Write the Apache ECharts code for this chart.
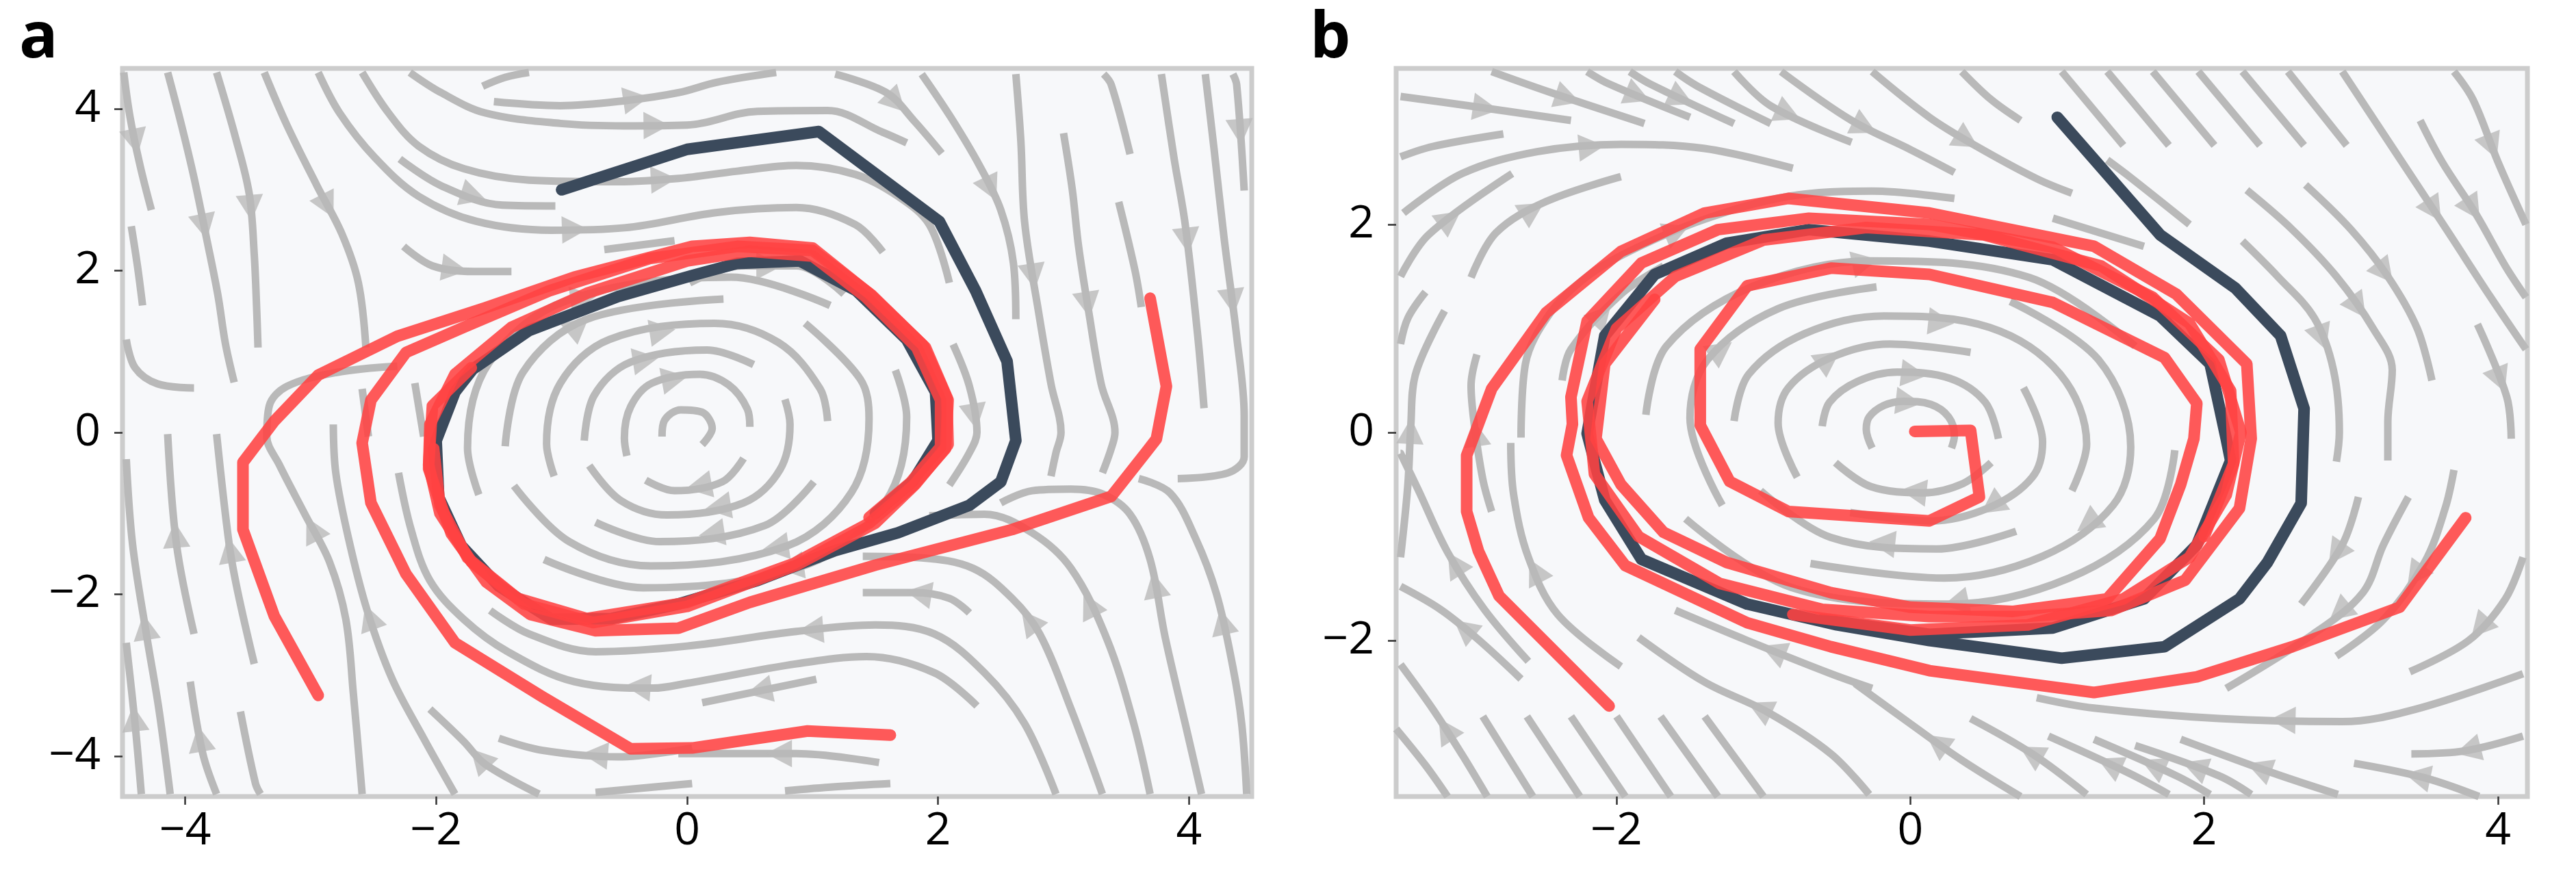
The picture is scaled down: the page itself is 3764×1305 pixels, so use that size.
<!DOCTYPE html>
<html><head><meta charset="utf-8">
<script src="https://cdn.jsdelivr.net/npm/echarts@6/dist/echarts.min.js"></script>
<style>html,body{margin:0;padding:0;background:#fff}#c{width:3764px;height:1305px}</style>
</head><body><div id="c"></div>
<script>
// ---------- tick labels ----------
const aXTicks = [-4, -2, 0, 2, 4];
const aYTicks = [-4, -2, 0, 2, 4];
const bXTicks = [-2, 0, 2, 4];
const bYTicks = [-2, 0, 2];

// ---------- panel a : streamlines (flow order) ----------
const aStreamTopLeft = [
 [[-4.49,4.45],[-4.44,3.9],[-4.36,3.3],[-4.27,2.75]],
 [[-4.43,2.55],[-4.38,2.05],[-4.34,1.57]],
 [[-4.47,1.15],[-4.4,0.8],[-4.22,0.6],[-3.93,0.55]],
 [[-4.14,4.45],[-4.03,3.8],[-3.93,3.15],[-3.83,2.4],[-3.74,1.7],[-3.68,1.1],[-3.61,0.62]],
 [[-3.75,4.45],[-3.6,3.65],[-3.49,2.95],[-3.45,2.2],[-3.43,1.5],[-3.42,1.05]],
 [[-3.37,4.45],[-3.19,3.8],[-2.95,3.05],[-2.75,2.45],[-2.62,1.85],[-2.56,1.05]],
 [[-2.94,4.45],[-2.77,3.95],[-2.49,3.4],[-2.14,2.92],[-1.68,2.61],[-1.08,2.5],[-0.5,2.53],[0.24,2.72],[0.87,2.78],[1.34,2.57],[1.56,2.23]],
 [[-2.59,4.45],[-2.38,3.95],[-2.14,3.54],[-1.78,3.26],[-1.26,3.12],[-0.55,3.1],[-0.07,3.14],[0.4,3.23],[0.87,3.3],[1.34,3.19],[1.68,2.92],[1.93,2.57],[2.09,1.85]],
 [[-2.21,4.45],[-1.96,4.2],[-1.61,3.95],[-1.01,3.82],[-0.5,3.79],[0.0,3.8],[0.56,3.97],[1.12,3.98],[1.56,3.71],[1.75,3.58]],
 [[-1.54,4.09],[-1.01,4.04],[-0.5,4.1],[-0.07,4.2],[0.24,4.33],[0.71,4.45]],
 [[-1.63,4.28],[-1.45,4.39],[-1.26,4.45]],
 [[-2.29,3.38],[-1.96,3.05],[-1.47,2.81],[-1.05,2.8]],
 [[-2.26,2.3],[-2.03,2.06],[-1.7,1.99],[-1.4,1.99]],
 [[-0.66,2.26],[-0.1,2.37]],
 [[-2.54,-0.05],[-2.59,0.54]],
 [[-2.1,-0.05],[-2.17,0.61]]
];
const aStreamRight = [
 [[1.18,4.43],[1.59,4.2],[1.81,3.85],[2.03,3.45]],
 [[1.87,4.43],[2.1,3.9],[2.33,3.3],[2.5,2.75],[2.6,2.1],[2.62,1.4]],
 [[2.62,4.43],[2.66,3.6],[2.69,2.6],[2.8,1.5],[2.9,0.6],[2.98,0.0],[2.94,-0.25],[2.9,-0.54]],
 [[3.0,3.7],[3.07,3.0],[3.12,2.3],[3.2,1.5],[3.3,0.6],[3.41,0.0],[3.38,-0.2],[3.31,-0.5]],
 [[3.32,4.43],[3.38,4.3],[3.53,3.44]],
 [[3.44,2.85],[3.57,2.0],[3.62,1.55]],
 [[3.78,4.43],[3.88,3.4],[3.97,2.57],[4.07,1.19],[4.12,0.3]],
 [[4.13,4.43],[4.2,3.5],[4.28,2.4],[4.38,1.19],[4.44,0.2],[4.44,-0.3],[4.31,-0.5],[3.91,-0.57]],
 [[4.35,4.43],[4.38,4.3],[4.44,2.99]],
 [[2.12,1.09],[2.25,0.57],[2.31,0.0],[2.25,-0.25],[2.09,-0.65]],
 [[0.02,1.85],[0.43,2.06],[0.87,2.06],[1.25,1.71]]
];
const aStreamBottom = [
 [[-4.12,-4.47],[-4.21,-3.42],[-4.31,-2.49],[-4.42,-1.38],[-4.47,-0.33]],
 [[-4.35,-4.47],[-4.4,-3.6],[-4.47,-2.6]],
 [[-3.93,-2.49],[-4.07,-1.38],[-4.14,-0.02]],
 [[-3.75,-4.47],[-3.86,-3.97],[-3.96,-3.08]],
 [[-3.45,-2.86],[-3.58,-1.98],[-3.65,-1.38],[-3.75,-0.02]],
 [[-3.4,-4.47],[-3.44,-4.34],[-3.56,-3.45]],
 [[-2.59,-4.47],[-2.66,-3.23],[-2.72,-2.31],[-2.85,-1.6],[-3.05,-1.0],[-3.25,-0.4],[-3.35,-0.05],[-3.33,0.33],[-3.19,0.57],[-2.8,0.74],[-2.31,0.82]],
 [[-1.85,-4.47],[-2.1,-3.78],[-2.35,-3.05],[-2.55,-2.2],[-2.7,-1.3],[-2.8,-0.5],[-2.82,0.1]],
 [[2.31,-3.38],[1.97,-2.97],[1.43,-2.77],[0.87,-2.86],[0.0,-3.1],[-0.27,-3.16],[-0.9,-3.08],[-1.43,-2.71],[-1.78,-2.31],[-2.05,-1.83],[-2.2,-1.2],[-2.3,-0.5]],
 [[2.94,-4.47],[2.69,-3.6],[2.37,-2.97],[1.97,-2.49],[1.5,-2.38],[0.87,-2.46],[0.0,-2.64],[-0.73,-2.71],[-1.26,-2.49],[-1.57,-2.2]],
 [[1.03,-3.05],[0.12,-3.34]],
 [[1.53,-4.08],[0.87,-3.97],[-0.07,-3.97]],
 [[1.62,-4.34],[1.18,-4.38],[0.78,-4.43]],
 [[4.1,-4.47],[3.97,-3.6],[3.81,-2.53],[3.69,-1.57],[3.53,-1.01],[3.31,-0.76],[3.06,-0.7],[2.75,-0.72],[2.5,-0.87]],
 [[3.69,-4.47],[3.56,-3.6],[3.35,-2.57],[3.06,-1.68],[2.75,-1.24],[2.37,-1.01],[1.93,-1.03]],
 [[3.31,-4.47],[3.06,-3.42],[2.81,-2.49],[2.59,-2.05],[2.28,-1.68],[1.87,-1.55],[1.4,-1.53]],
 [[2.25,-2.23],[2.09,-2.05],[1.81,-1.98],[1.4,-1.98]],
 [[4.46,-4.47],[4.42,-3.6],[4.35,-2.9],[4.22,-2.0],[4.05,-1.3],[3.85,-0.75],[3.6,-0.57]],
 [[-1.18,-4.47],[-1.61,-4.1],[-1.78,-3.82],[-2.05,-3.42]],
 [[0.04,-3.9],[-0.55,-4.01],[-1.15,-3.93],[-1.5,-3.78]],
 [[0.04,-4.34],[-0.73,-4.45]]
];
const aStreamRings = [
 [[-0.2,-0.05],[-0.18,0.15],[-0.05,0.28],[0.12,0.25],[0.2,0.05],[0.12,-0.15]],
 [[-0.48,-0.29],[-0.5,-0.07],[-0.45,0.32],[-0.28,0.61],[0.1,0.72],[0.33,0.59],[0.48,0.29],[0.5,0.07]],
 [[0.45,-0.32],[0.28,-0.61],[-0.1,-0.72],[-0.33,-0.59]],
 [[-0.82,-0.1],[-0.74,0.46],[-0.45,0.87],[0.16,1.02],[0.53,0.84]],
 [[0.78,0.41],[0.82,0.1],[0.74,-0.46],[0.45,-0.87],[-0.16,-1.02],[-0.53,-0.84],[-0.78,-0.41]],
 [[-1.06,-0.54],[-1.12,-0.14],[-1.01,0.61],[-0.62,1.15],[0.22,1.35],[0.73,1.11],[1.06,0.54],[1.12,0.14]],
 [[1.01,-0.61],[0.62,-1.15],[-0.22,-1.35],[-0.73,-1.11]],
 [[-1.45,-0.17],[-1.31,0.74],[-0.8,1.4],[0.29,1.65]],
 [[0.94,1.35],[1.38,0.66],[1.45,0.17],[1.31,-0.74],[0.8,-1.4],[-0.29,-1.65],[-0.94,-1.35],[-1.38,-0.66]],
 [[-1.66,-0.77],[-1.75,-0.19],[-1.58,0.86],[-0.96,1.63],[0.35,1.92],[1.14,1.57]],
 [[1.66,0.77],[1.75,0.19],[1.58,-0.86],[0.96,-1.63],[-0.35,-1.92],[-1.14,-1.57]]
];

// ---------- panel a : trajectories ----------
const aDark = [[-1.0,3.0],[0.0,3.5],[1.05,3.72],[2.01,2.61],[2.3,1.75],[2.55,0.88],[2.62,-0.1],[2.5,-0.61],[2.25,-0.9],[1.68,-1.24],[1.18,-1.46],[0.56,-1.83],[-0.07,-2.12],[-0.6,-2.3],[-1.08,-2.31],[-1.5,-1.9],[-1.8,-1.4],[-1.98,-0.8],[-2.0,-0.1],[-1.85,0.5],[-1.71,0.78],[-1.26,1.26],[-0.55,1.68],[0.04,1.94],[0.4,2.09],[0.9,2.12],[1.35,1.75],[1.75,1.15],[1.98,0.5],[2.0,-0.1],[1.8,-0.6],[1.5,-1.0]];
const aRed1 = [[-2.94,-3.25],[-3.29,-2.27],[-3.54,-1.2],[-3.54,-0.37],[-3.29,0.14],[-2.94,0.71],[-2.31,1.19],[-1.61,1.54],[-0.9,1.92],[0.04,2.3],[0.5,2.35],[1.0,2.28],[1.45,1.72],[1.88,1.08],[2.07,0.43],[2.08,-0.15],[1.82,-0.64],[1.5,-1.12],[0.87,-1.64],[0.0,-2.15],[-0.75,-2.35],[-1.3,-2.12],[-1.72,-1.6],[-1.97,-1.0],[-2.06,-0.4],[-2.03,0.33],[-1.72,0.8]];
const aRed2 = [[3.69,1.66],[3.82,0.57],[3.74,-0.08],[3.66,-0.24],[3.38,-0.79],[2.59,-1.2],[1.5,-1.64],[0.5,-2.1],[-0.07,-2.42],[-0.73,-2.45],[-1.25,-2.25],[-1.6,-1.85],[-1.88,-1.25],[-2.06,-0.45],[-2.05,0.1],[-1.85,0.72],[-1.4,1.3],[-0.8,1.72],[0.0,2.12],[0.5,2.24],[1.0,2.18],[1.42,1.68],[1.83,1.05],[2.02,0.4],[2.02,-0.18],[1.78,-0.62],[1.45,-1.05]];
const aRed3 = [[1.62,-3.74],[0.96,-3.69],[0.04,-3.9],[-0.45,-3.91],[-1.15,-3.27],[-1.85,-2.6],[-2.24,-1.75],[-2.52,-0.87],[-2.59,-0.13],[-2.52,0.4],[-2.24,0.99],[-1.78,1.3],[-1.1,1.75],[-0.3,2.15],[0.4,2.3],[1.0,2.25],[1.47,1.7],[1.9,1.05],[2.08,0.4],[2.06,-0.2],[1.8,-0.66],[1.45,-1.12],[0.85,-1.62],[0.0,-2.1],[-0.8,-2.3],[-1.35,-2.05],[-1.75,-1.55],[-1.97,-0.9],[-2.02,-0.2]];

// ---------- panel b : streamlines ----------
const bStreamTopLeft = [
 [[-3.47,3.23],[-3.0,3.14],[-2.31,3.0]],
 [[-2.85,3.47],[-2.45,3.27],[-1.81,2.97]],
 [[-2.2,3.47],[-2.05,3.35],[-1.5,3.03]],
 [[-1.91,3.47],[-1.77,3.35],[-1.2,2.97]],
 [[-1.6,3.47],[-1.45,3.33],[-0.95,2.97]],
 [[-1.2,3.47],[-0.95,3.14],[-0.4,2.79]],
 [[-0.88,3.47],[-0.4,3.0],[0.0,2.72],[0.3,2.5]],
 [[-0.26,3.47],[0.13,3.03],[0.44,2.76],[0.86,2.44],[1.1,2.3]],
 [[0.35,3.47],[0.55,3.2],[0.75,3.0]],
 [[-3.47,2.65],[-3.25,2.75],[-2.77,2.87]],
 [[-3.45,2.11],[-3.05,2.49],[-2.54,2.7],[-1.97,2.77],[-1.4,2.73],[-0.8,2.54]],
 [[-3.47,1.5],[-3.28,1.9],[-2.71,2.49]],
 [[-2.99,1.49],[-2.82,1.92],[-2.48,2.22],[-1.97,2.46]],
 [[-3.47,0.85],[-3.42,1.1],[-3.3,1.35]],
 [[-3.47,-1.2],[-3.42,-0.5],[-3.4,0.07],[-3.37,0.55],[-3.17,1.17]],
 [[-2.85,-0.76],[-2.91,-0.45],[-2.97,0.1],[-2.99,0.45],[-2.95,0.75]],
 [[-2.65,-0.05],[-2.62,0.66],[-2.45,1.15],[-2.2,1.5],[-1.9,1.75],[-1.4,2.05],[-0.83,2.27],[-0.26,2.32],[0.3,2.25]],
 [[-2.37,0.5],[-2.31,0.8],[-1.97,1.33],[-1.68,1.6]]
];
const bStreamRight = [
 [[1.03,3.47],[1.45,2.76]],
 [[1.34,3.47],[1.76,2.76]],
 [[1.65,3.47],[2.07,2.76]],
 [[1.96,3.47],[2.38,2.76]],
 [[2.26,3.47],[2.68,2.76]],
 [[2.57,3.47],[2.97,2.76]],
 [[2.94,3.47],[3.3,2.7],[3.65,1.95],[3.95,1.3],[4.19,0.8]],
 [[3.7,3.47],[3.83,3.2],[4.0,2.6],[4.19,2.0]],
 [[3.47,3.0],[3.62,2.6],[3.85,2.1],[4.05,1.6],[4.19,1.3]],
 [[1.34,2.62],[1.5,2.45],[1.9,2.0]],
 [[0.97,2.06],[1.59,1.79]],
 [[2.29,2.33],[2.6,1.95],[2.9,1.5],[3.15,1.0],[3.28,0.6],[3.25,0.1],[3.25,-0.27]],
 [[2.69,2.38],[3.0,1.95],[3.25,1.5],[3.45,1.0],[3.55,0.5]],
 [[3.86,1.04],[4.06,0.34],[4.09,-0.06]],
 [[2.26,1.84],[2.5,1.5],[2.75,1.1],[2.88,0.6],[2.92,0.0],[2.9,-0.28]],
 [[3.05,-0.62],[2.94,-1.08],[2.66,-1.65]],
 [[3.39,-0.62],[3.22,-1.08],[3.08,-1.54],[2.74,-1.94],[2.15,-2.46]],
 [[3.7,-0.36],[3.64,-0.73],[3.5,-1.25],[3.22,-1.8],[2.9,-2.15]],
 [[4.17,-1.2],[4.05,-1.6],[3.8,-2.0],[3.4,-2.3]],
 [[4.17,-2.32],[3.44,-2.66],[2.94,-2.78],[2.1,-2.75],[1.25,-2.65],[0.86,-2.55]],
 [[4.17,-2.92],[3.78,-3.06],[3.41,-3.09]],
 [[3.87,-3.5],[3.5,-3.32],[3.02,-3.18]],
 [[2.91,-3.48],[2.46,-3.27],[1.84,-2.95]],
 [[2.32,-3.48],[2.1,-3.3],[1.53,-3.01]],
 [[2.04,-3.48],[1.81,-3.3],[1.25,-2.95]],
 [[1.76,-3.48],[1.48,-3.27],[0.94,-2.92]],
 [[1.2,-3.48],[0.83,-3.09],[0.41,-2.75]],
 [[0.75,-3.5],[0.35,-3.15],[0.0,-2.8],[-0.37,-2.42]]
];
const bStreamBottomLeft = [
 [[-2.57,-3.5],[-2.91,-2.73]],
 [[-2.25,-3.5],[-2.61,-2.73]],
 [[-1.94,-3.5],[-2.31,-2.73]],
 [[-1.63,-3.5],[-2.0,-2.73]],
 [[-1.31,-3.5],[-1.7,-2.73]],
 [[-1.0,-3.5],[-1.4,-2.73]],
 [[-3.15,-3.5],[-3.3,-3.2],[-3.5,-2.85]],
 [[-2.88,-3.5],[-3.05,-3.1],[-3.25,-2.66],[-3.47,-2.23]],
 [[-0.28,-3.48],[-0.54,-3.09],[-0.97,-2.69],[-1.4,-2.4],[-1.85,-1.97]],
 [[-0.26,-2.46],[-0.54,-2.32],[-1.11,-2.0],[-1.6,-1.71]],
 [[-2.6,-2.2],[-2.9,-1.7],[-3.15,-1.15],[-3.35,-0.55],[-3.47,-0.2]],
 [[-1.97,-2.25],[-2.4,-1.75],[-2.6,-1.2],[-2.7,-0.6],[-2.72,-0.1]],
 [[-2.65,-2.37],[-2.95,-1.98],[-3.2,-1.7],[-3.47,-1.48]]
];
const bStreamRings = [
 [[-0.26,-0.15],[-0.3,0.03],[-0.28,0.15],[-0.18,0.26],[-0.05,0.3],[0.14,0.27],[0.26,0.15],[0.3,-0.03],[0.28,-0.15]],
 [[-0.6,0.06],[-0.55,0.29],[-0.36,0.49],[-0.09,0.58],[0.27,0.52],[0.51,0.29],[0.6,-0.06]],
 [[0.55,-0.29],[0.36,-0.49],[0.09,-0.58],[-0.27,-0.52],[-0.51,-0.29]],
 [[-0.77,-0.43],[-0.9,0.09],[-0.83,0.43],[-0.54,0.72],[-0.14,0.85],[0.41,0.77]],
 [[0.77,0.43],[0.9,-0.09],[0.83,-0.43],[0.54,-0.72],[0.14,-0.85],[-0.41,-0.77]],
 [[-1.2,0.11],[-1.1,0.56],[-0.72,0.95],[-0.18,1.12],[0.54,1.01],[1.02,0.56],[1.2,-0.11],[1.1,-0.56]],
 [[0.72,-0.95],[0.18,-1.12],[-0.54,-1.01],[-1.02,-0.56]],
 [[-1.28,-0.7],[-1.5,0.14],[-1.38,0.7],[-0.9,1.19],[-0.23,1.4]],
 [[0.68,1.26],[1.28,0.7],[1.5,-0.14],[1.38,-0.7],[0.9,-1.19],[0.23,-1.4],[-0.68,-1.26]],
 [[-1.8,0.17],[-1.66,0.83],[-1.08,1.4],[-0.27,1.65],[0.81,1.49],[1.53,0.83]],
 [[1.8,-0.17],[1.66,-0.83],[1.08,-1.4],[0.27,-1.65],[-0.81,-1.49],[-1.53,-0.83]]
];

// ---------- panel b : trajectories ----------
const bDark = [[1.0,3.03],[1.7,1.9],[2.21,1.39],[2.52,0.93],[2.68,0.23],[2.66,-0.68],[2.43,-1.25],[2.24,-1.6],[1.73,-2.06],[1.03,-2.17],[0.13,-2.0],[-0.5,-1.85],[-1.11,-1.65],[-1.83,-1.22],[-2.08,-0.65],[-2.2,-0.01],[-2.08,0.93],[-1.74,1.52],[-1.25,1.82],[-0.69,1.95],[0.13,1.84],[0.97,1.66],[1.7,1.12],[2.04,0.66],[2.15,-0.06],[2.18,-0.27],[1.95,-1.08],[1.59,-1.6],[0.97,-1.88],[0.13,-1.94],[-0.6,-1.8]];
const bRed1 = [[-2.05,-2.63],[-2.8,-1.57],[-2.94,-1.14],[-3.02,-0.76],[-3.02,-0.22],[-2.94,0.08],[-2.85,0.42],[-2.48,1.15],[-1.97,1.74],[-1.4,2.11],[-0.83,2.25],[0.13,2.11],[1.25,1.79],[1.81,1.33],[2.29,0.66],[2.32,-0.06],[2.24,-0.73],[1.87,-1.42],[1.37,-1.71],[0.78,-1.77],[0.13,-1.77],[-0.6,-1.7],[-1.3,-1.45],[-1.85,-1.0],[-2.15,-0.4],[-2.2,0.3],[-2.0,1.0],[-1.6,1.5],[-1.0,1.85],[-0.3,1.97],[0.5,1.9],[1.3,1.6],[1.9,1.05],[2.18,0.4],[2.2,-0.3],[2.0,-1.0]];
const bRed2 = [[3.78,-0.82],[3.33,-1.68],[2.6,-2.06],[1.95,-2.35],[1.25,-2.5],[0.13,-2.29],[-0.54,-2.06],[-1.11,-1.83],[-1.94,-1.28],[-2.19,-0.82],[-2.34,-0.22],[-2.3,0.08],[-2.31,0.34],[-2.2,1.07],[-1.83,1.63],[-1.31,1.95],[-0.69,2.06],[0.13,2.0],[0.97,1.78],[1.65,1.3],[2.1,0.7],[2.25,0.0],[2.15,-0.6],[1.9,-1.2],[1.45,-1.6],[0.8,-1.85],[0.0,-1.9],[-0.8,-1.75]];
const bRed3 = [[0.03,0.01],[0.41,0.02],[0.47,-0.62],[0.13,-0.85],[-0.83,-0.76],[-1.23,-0.47],[-1.43,0.07],[-1.43,0.8],[-1.11,1.41],[-0.54,1.58],[0.13,1.52],[0.97,1.25],[1.73,0.72],[1.95,0.28],[1.93,-0.06],[1.84,-0.5],[1.7,-1.02],[1.34,-1.6],[0.7,-1.72],[0.0,-1.68],[-0.54,-1.54],[-1.25,-1.25],[-1.68,-0.96],[-1.97,-0.5],[-2.14,-0.06],[-2.08,0.66],[-1.74,1.28]];

// ---------- styling ----------
const GRAY = '#b9b9b9';
const DARK = '#3b4a5c';
const RED = 'rgba(255,66,66,0.88)';
const FONT = 'Open Sans';
const minus = v => (v < 0 ? '\u2212' + Math.abs(v) : String(v));

const aStreams = [].concat(aStreamTopLeft, aStreamRight, aStreamBottom, aStreamRings);
const bStreams = [].concat(bStreamTopLeft, bStreamRight, bStreamBottomLeft, bStreamRings);

function streamSeries(lines, gi) {
  return lines.map(pts => ({
    type: 'line', xAxisIndex: gi, yAxisIndex: gi, data: pts, smooth: 0.35,
    symbol: 'none', showSymbol: false, silent: true, z: 2,
    lineStyle: { color: GRAY, width: 11, cap: 'butt', join: 'round' }
  }));
}
function trajSeries(pts, gi, color, z) {
  return {
    type: 'line', xAxisIndex: gi, yAxisIndex: gi, data: pts, smooth: false,
    symbol: 'none', showSymbol: false, silent: true, z: z,
    lineStyle: { color: color, width: 17, cap: 'round', join: 'round' }
  };
}
function axisCommon(gi, min, max, ticks, margin) {
  return {
    gridIndex: gi, type: 'value', min: min, max: max,
    axisLine: { show: false, onZero: false }, splitLine: { show: false },
    axisTick: { show: true, inside: false, customValues: ticks, length: 12, lineStyle: { color: '#333', width: 2.5 } },
    axisLabel: { customValues: ticks, formatter: minus, fontSize: 66, color: '#000', fontFamily: FONT, margin: margin }
  };
}
const gridStyle = { show: true, backgroundColor: '#f7f8fa', borderColor: '#cccccc', borderWidth: 7, containLabel: false, outerBoundsMode: 'none' };

const series = [].concat(
  streamSeries(aStreams, 0),
  streamSeries(bStreams, 1),
  [{ id: 'arrA', type: 'scatter', xAxisIndex: 0, yAxisIndex: 0, data: [], symbol: 'triangle', symbolSize: [40, 38], itemStyle: { color: GRAY }, silent: true, z: 3 },
   { id: 'arrB', type: 'scatter', xAxisIndex: 1, yAxisIndex: 1, data: [], symbol: 'triangle', symbolSize: [40, 38], itemStyle: { color: GRAY }, silent: true, z: 3 }],
  [trajSeries(aDark, 0, DARK, 4), trajSeries(aRed1, 0, RED, 5), trajSeries(aRed2, 0, RED, 5), trajSeries(aRed3, 0, RED, 5),
   trajSeries(bDark, 1, DARK, 4), trajSeries(bRed1, 1, RED, 5), trajSeries(bRed2, 1, RED, 5), trajSeries(bRed3, 1, RED, 5)]
);

const chart = echarts.init(document.getElementById('c'), null, { renderer: 'canvas', width: 3764, height: 1305 });
chart.setOption({
  animation: false,
  backgroundColor: '#ffffff',
  grid: [
    Object.assign({ left: 179, top: 100, width: 1650, height: 1064 }, gridStyle),
    Object.assign({ left: 2040, top: 100, width: 1653, height: 1064 }, gridStyle)
  ],
  xAxis: [axisCommon(0, -4.5, 4.5, aXTicks, 18), axisCommon(1, -3.5, 4.2, bXTicks, 18)],
  yAxis: [axisCommon(0, -4.5, 4.5, aYTicks, 32), axisCommon(1, -3.5, 3.5, bYTicks, 32)],
  graphic: [
    { type: 'text', left: 28, top: 10, style: { text: 'a', font: 'bold 94px "Open Sans"', fill: '#000' } },
    { type: 'text', left: 1914, top: 10, style: { text: 'b', font: 'bold 94px "Open Sans"', fill: '#000' } }
  ],
  series: series
});

// arrows at the middle of each streamline, oriented along it
function arrowsFor(lines, gi) {
  const out = [];
  lines.forEach(pts => {
    const px = pts.map(p => chart.convertToPixel({ gridIndex: gi }, p));
    const seg = []; let L = 0;
    for (let i = 1; i < px.length; i++) {
      const d = Math.hypot(px[i][0] - px[i-1][0], px[i][1] - px[i-1][1]);
      seg.push(d); L += d;
    }
    if (L < 160) return;
    let half = L / 2, i = 0;
    while (i < seg.length - 1 && half > seg[i]) { half -= seg[i]; i++; }
    const t = seg[i] ? half / seg[i] : 0;
    const x = px[i][0] + (px[i+1][0] - px[i][0]) * t;
    const y = px[i][1] + (px[i+1][1] - px[i][1]) * t;
    const ang = Math.atan2(-(px[i+1][1] - px[i][1]), px[i+1][0] - px[i][0]) * 180 / Math.PI;
    out.push({ value: chart.convertFromPixel({ gridIndex: gi }, [x, y]), symbolRotate: ang - 90 });
  });
  return out;
}
chart.setOption({ series: [{ id: 'arrA', data: arrowsFor(aStreams, 0) }, { id: 'arrB', data: arrowsFor(bStreams, 1) }] });
</script>
</body></html>
